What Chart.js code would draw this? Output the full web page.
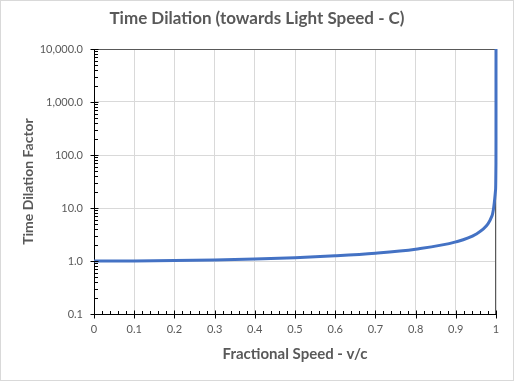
<!DOCTYPE html>
<html>
<head>
<meta charset="utf-8">
<script src="https://cdn.jsdelivr.net/npm/chart.js@4/dist/chart.umd.min.js"></script>
<style>
  html, body { margin: 0; padding: 0; background: #ffffff; }
  #wrap { width: 514px; height: 381px; position: relative; }
</style>
</head>
<body>
<div id="wrap"><canvas id="c" width="514" height="381"></canvas></div>
<script>
// Fractional speed (v/c) and time dilation factor
const speeds = [0, 0.1, 0.2, 0.3, 0.4, 0.5, 0.6, 0.7, 0.8, 0.9, 0.95, 0.98, 0.99, 0.999, 0.9999, 0.99999, 0.999999, 0.9999999, 0.99999999, 0.999999995];
const factors = [1.0, 1.005, 1.02, 1.05, 1.09, 1.15, 1.25, 1.4, 1.67, 2.29, 3.2, 5.0, 7.1, 22.4, 70.7, 224, 707, 2236, 7071, 10000];
const xTickValues = [0, 0.1, 0.2, 0.3, 0.4, 0.5, 0.6, 0.7, 0.8, 0.9, 1];
const yTickValues = [0.1, 1, 10, 100, 1000, 10000];

const FONT = 'Lato, "Open Sans", sans-serif';
const TXT = '#595959';

const points = speeds.map((s, i) => ({ x: s, y: factors[i] }));

const decorPlugin = {
  id: 'decor',
  beforeDraw(chart) {
    const ctx = chart.ctx;
    ctx.save();
    ctx.fillStyle = '#ffffff';
    ctx.fillRect(0, 0, chart.width, chart.height);
    ctx.strokeStyle = '#d9d9d9';
    ctx.lineWidth = 1;
    ctx.strokeRect(0.5, 0.5, chart.width - 1, chart.height - 1);
    ctx.restore();
  },
  beforeDatasetsDraw(chart) {
    const ctx = chart.ctx;
    const a = chart.chartArea;
    ctx.save();
    ctx.strokeStyle = '#595959';
    ctx.lineWidth = 1;
    ctx.beginPath();
    ctx.moveTo(Math.round(a.left) + 0.5, Math.round(a.top) + 0.5);
    ctx.lineTo(Math.round(a.right) - 0.5, Math.round(a.top) + 0.5);
    ctx.lineTo(Math.round(a.right) - 0.5, Math.round(a.bottom));
    ctx.stroke();
    ctx.restore();
  },
  afterDraw(chart) {
    const ctx = chart.ctx;
    const xs = chart.scales.x, ys = chart.scales.y;
    const a = chart.chartArea;
    const ax = Math.round(a.left) + 0.5;
    const ay = Math.round(a.bottom) + 0.5;
    ctx.save();
    ctx.strokeStyle = '#000000';
    ctx.lineWidth = 1;
    ctx.beginPath();
    // y axis ticks
    yTickValues.forEach((v, i) => {
      const py = Math.round(ys.getPixelForValue(v)) + 0.5;
      ctx.moveTo(ax - 4, py); ctx.lineTo(ax + 4, py);
      if (i < yTickValues.length - 1) {
        for (let k = 2; k <= 9; k++) {
          const my = Math.round(ys.getPixelForValue(v * k)) + 0.5;
          ctx.moveTo(ax, my); ctx.lineTo(ax + 3.5, my);
        }
      }
    });
    // x axis ticks
    xTickValues.forEach((v, i) => {
      const px = Math.round(xs.getPixelForValue(v)) + 0.5;
      ctx.moveTo(px, ay - 4); ctx.lineTo(px, ay + 4);
      if (i < xTickValues.length - 1) {
        for (let k = 1; k <= 4; k++) {
          const mx = Math.round(xs.getPixelForValue(v + k * 0.02)) + 0.5;
          ctx.moveTo(mx, ay); ctx.lineTo(mx, ay - 3.5);
        }
      }
    });
    ctx.stroke();
    ctx.restore();
  }
};

new Chart(document.getElementById('c'), {
  type: 'scatter',
  data: {
    datasets: [{
      data: points,
      showLine: true,
      borderColor: '#4472C4',
      backgroundColor: '#4472C4',
      borderWidth: 3,
      pointRadius: 0,
      cubicInterpolationMode: 'monotone',
      fill: false,
      clip: 4
    }]
  },
  options: {
    responsive: false,
    animation: false,
    devicePixelRatio: 1,
    layout: { padding: 0 },
    plugins: {
      legend: { display: false },
      tooltip: { enabled: false },
      title: {
        display: true,
        text: 'Time Dilation (towards Light Speed - C)',
        color: TXT,
        font: { family: FONT, size: 17, weight: 'bold' },
        padding: { top: 8, bottom: 20.6 }
      }
    },
    scales: {
      x: {
        type: 'linear',
        min: 0, max: 1,
        afterFit(s) { s.height = 67; },
        afterBuildTicks(s) { s.ticks = xTickValues.map(v => ({ value: v })); },
        grid: { color: '#d9d9d9', drawTicks: false },
        border: { display: true, color: '#000000', width: 1 },
        ticks: {
          autoSkip: false, maxRotation: 0, minRotation: 0,
          padding: 9,
          color: TXT,
          font: { family: FONT, size: 11 },
          callback: (v) => String(Math.round(v * 10) / 10)
        },
        title: {
          display: true,
          text: 'Fractional Speed - v/c',
          color: TXT,
          font: { family: FONT, size: 15, weight: 'bold' },
          padding: { top: 0, bottom: 18 }
        }
      },
      y: {
        type: 'logarithmic',
        min: 0.1, max: 10000,
        afterFit(s) { s.width = 94; },
        afterBuildTicks(s) { s.ticks = yTickValues.map(v => ({ value: v })); },
        grid: { color: '#d9d9d9', drawTicks: false },
        border: { display: true, color: '#000000', width: 1 },
        ticks: {
          autoSkip: false,
          padding: 11,
          color: TXT,
          font: { family: FONT, size: 11 },
          callback: (v) => Number(v).toLocaleString('en-US', { minimumFractionDigits: 1, maximumFractionDigits: 1 })
        },
        title: {
          display: true,
          text: 'Time Dilation Factor',
          color: TXT,
          font: { family: FONT, size: 14, weight: 'bold' },
          padding: { top: 19.6, bottom: 0 }
        }
      },
      rightSpace: {
        type: 'linear',
        position: 'right',
        display: true,
        afterFit(s) { s.width = 18; },
        grid: { display: false, drawTicks: false },
        border: { display: false },
        ticks: { display: false }
      }
    }
  },
  plugins: [decorPlugin]
});
</script>
</body>
</html>
